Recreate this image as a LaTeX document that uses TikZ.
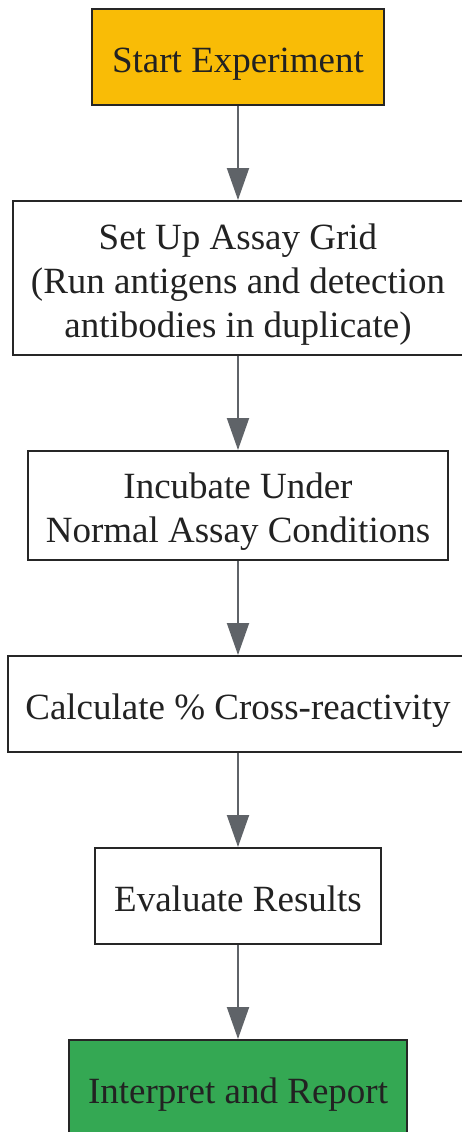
\documentclass[tikz,border=0pt]{standalone}
\usepackage{fontspec}
\setmainfont{Liberation Serif}
\usetikzlibrary{arrows.meta}
\definecolor{startyellow}{HTML}{F9BC06}
\definecolor{endgreen}{HTML}{34A853}
\definecolor{edgegray}{HTML}{5F6368}
\definecolor{boxline}{HTML}{262626}
\definecolor{txt}{HTML}{222222}
\tikzset{
  stepbox/.style={draw=boxline, line width=2pt, fill=white, rectangle, align=center,
    inner sep=0pt, text=txt, font=\fontsize{37}{44}\selectfont},
  oneline/.style={stepbox, text height=30pt, text depth=0pt},
  txtlabel/.style={text=txt, align=center, inner sep=0pt, font=\fontsize{37}{44}\selectfont},
  flow/.style={draw=edgegray, line width=2pt, -{Triangle[length=32pt,width=22pt]}}
}
\begin{document}
\begin{tikzpicture}[x=1pt,y=-1pt]
\useasboundingbox (0,0) rectangle (462,1132);
\node[oneline, fill=startyellow, minimum width=292pt, minimum height=96pt] (start) at (238,57) {Start Experiment};
\node[stepbox, minimum width=450pt, minimum height=154pt,
  label={[txtlabel,yshift=-7pt]center:Set Up Assay Grid\\(Run antigens and detection\\antibodies in duplicate)}] (grid) at (238,278) {};
\node[stepbox, minimum width=420pt, minimum height=109pt,
  label={[txtlabel,yshift=-6pt]center:Incubate Under\\Normal Assay Conditions}] (incub) at (238,505.5) {};
\node[oneline, minimum width=460pt, minimum height=96pt] (calc) at (238,704) {Calculate \% Cross-reactivity};
\node[oneline, minimum width=286pt, minimum height=96pt] (eval) at (238,896) {Evaluate Results};
\node[oneline, fill=endgreen, minimum width=338pt, minimum height=96pt] (report) at (238,1088) {Interpret and Report};
\draw[flow] (start) -- (grid);
\draw[flow] (grid) -- (incub);
\draw[flow] (incub) -- (calc);
\draw[flow] (calc) -- (eval);
\draw[flow] (eval) -- (report);
\end{tikzpicture}
\end{document}
